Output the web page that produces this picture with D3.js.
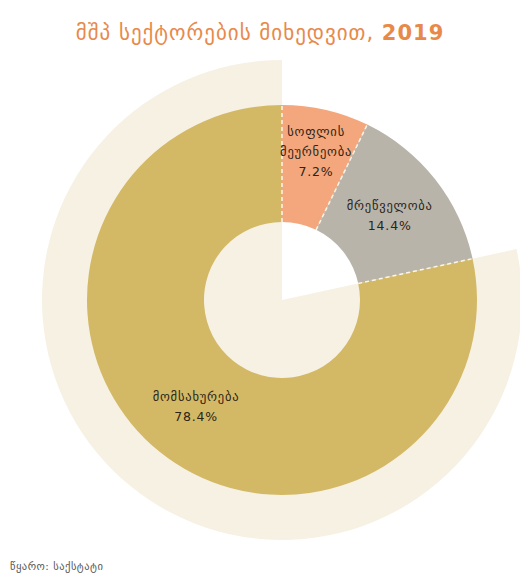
<!DOCTYPE html>
<html>
<head>
<meta charset="utf-8">
<script src="https://cdn.jsdelivr.net/npm/d3@7"></script>
<style>
  html, body { margin: 0; padding: 0; background: #ffffff; }
  svg { display: block; font-family: "DejaVu Sans", sans-serif; }
</style>
</head>
<body>
<svg id="chart" width="520" height="583"></svg>
<script>
// GDP structure by sector, 2019 (share of total, %)
const sectors = ["სოფლის მეურნეობა", "მრეწველობა", "მომსახურება"];
const labelLines = [["სოფლის", "მეურნეობა"], ["მრეწველობა"], ["მომსახურება"]];
const shares = [7.2, 14.4, 78.4];
const colors = ["#f4a77c", "#b9b4aa", "#d3b966"];

const titleText = "მშპ სექტორების მიხედვით, ";
const titleYear = "2019";
const sourceText = "წყარო: საქსტატი";

const W = 520, H = 583;
const cx = 282, cy = 300;
const rOuter = 195, rInner = 78, rHalo = 240;

const svg = d3.select("#chart");

const data = sectors.map((s, i) => ({ name: s, lines: labelLines[i], value: shares[i], color: colors[i] }));

const pie = d3.pie().value(d => d.value).sort(null);
const arcs = pie(data);

const g = svg.append("g").attr("transform", `translate(${cx},${cy})`);

// pale halo behind the largest sector, reaching down to the centre
const biggest = arcs[arcs.length - 1];
g.append("path")
  .attr("d", d3.arc().innerRadius(0).outerRadius(rHalo)({ startAngle: biggest.startAngle, endAngle: biggest.endAngle }))
  .attr("fill", "#f7f1e4");

// doughnut ring
const ring = d3.arc().innerRadius(rInner).outerRadius(rOuter);
g.selectAll("path.slice")
  .data(arcs)
  .join("path")
  .attr("class", "slice")
  .attr("d", ring)
  .attr("fill", d => d.data.color);

// slice boundaries
g.selectAll("line.sep")
  .data(arcs)
  .join("line")
  .attr("class", "sep")
  .attr("x1", d => rInner * Math.sin(d.startAngle))
  .attr("y1", d => -rInner * Math.cos(d.startAngle))
  .attr("x2", d => rOuter * Math.sin(d.startAngle))
  .attr("y2", d => -rOuter * Math.cos(d.startAngle))
  .attr("stroke", "#fbf6ea")
  .attr("stroke-width", 1.5)
  .attr("stroke-dasharray", "4,3");

// value labels
const lineH = 20;
g.selectAll("text.lbl")
  .data(arcs)
  .join("text")
  .attr("class", "lbl")
  .attr("text-anchor", "middle")
  .attr("font-size", 12.5)
  .attr("letter-spacing", 0.8)
  .attr("fill", "#2b2418")
  .each(function (d) {
    const r = d.data.value < 10 ? 152 : 137;
    const mid = (d.startAngle + d.endAngle) / 2;
    const x = r * Math.sin(mid);
    const y = -r * Math.cos(mid);
    const lines = d.data.lines.concat([d3.format(".1f")(d.data.value) + "%"]);
    const top = y - (lines.length - 1) * lineH / 2;
    const t = d3.select(this);
    lines.forEach((ln, i) => {
      t.append("tspan")
        .attr("x", x)
        .attr("y", top + i * lineH)
        .attr("dy", "0.35em")
        .text(ln);
    });
  });

// title
const title = svg.append("text")
  .attr("x", W / 2)
  .attr("y", 40)
  .attr("text-anchor", "middle")
  .attr("font-size", 21)
  .attr("letter-spacing", 1)
  .attr("fill", "#e8894a");
title.append("tspan").text(titleText);
title.append("tspan").attr("font-weight", "bold").text(titleYear);

// source note
svg.append("text")
  .attr("x", 10)
  .attr("y", 570)
  .attr("font-size", 10.5)
  .attr("letter-spacing", 0.5)
  .attr("fill", "#555")
  .text(sourceText);
</script>
</body>
</html>
